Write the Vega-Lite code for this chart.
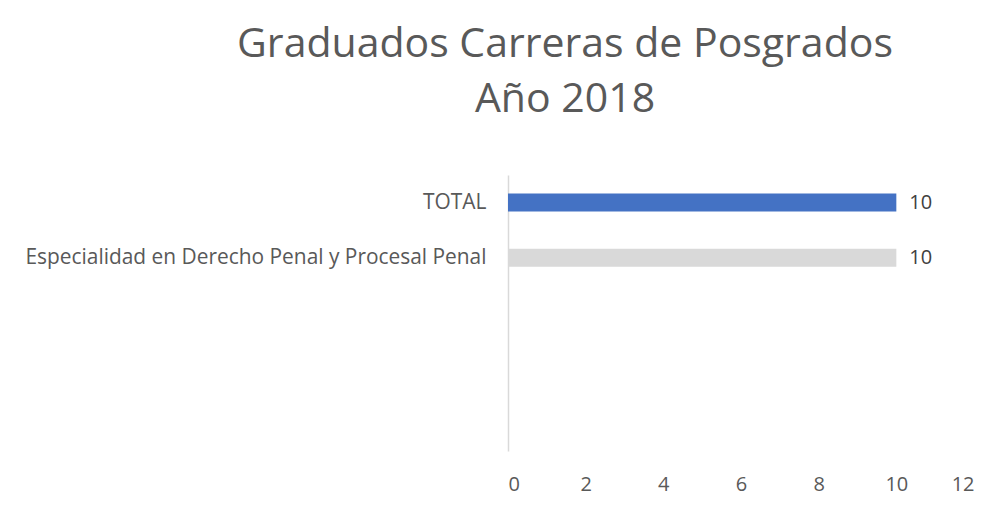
{
  "$schema": "https://vega.github.io/schema/vega-lite/v6.json",
  "width": 466,
  "height": 276,
  "autosize": {"type": "none"},
  "padding": {"left": 508, "top": 175, "right": 32, "bottom": 59},
  "background": "white",
  "title": {
    "text": ["Graduados Carreras de Posgrados", "Año 2018"],
    "fontSize": 41,
    "lineHeight": 55,
    "font": "Open Sans",
    "fontWeight": "normal",
    "color": "#595959",
    "anchor": "middle",
    "frame": "group",
    "dx": -176,
    "offset": 54
  },
  "data": {
    "values": [
      {"carrera": "TOTAL", "graduados": 10, "tipo": "total"},
      {"carrera": "Especialidad en Derecho Penal y Procesal Penal", "graduados": 10, "tipo": "carrera"}
    ]
  },
  "encoding": {
    "y": {
      "field": "carrera",
      "type": "nominal",
      "sort": null,
      "scale": {
        "domain": ["TOTAL", "Especialidad en Derecho Penal y Procesal Penal", "_e1", "_e2", "_e3"],
        "paddingInner": 0,
        "paddingOuter": 0
      },
      "axis": {
        "title": null,
        "values": ["TOTAL", "Especialidad en Derecho Penal y Procesal Penal"],
        "ticks": false,
        "domain": true,
        "domainColor": "#D9D9D9",
        "domainWidth": 1.5,
        "labelFont": "Open Sans",
        "labelFontSize": 20.9,
        "labelColor": "#595959",
        "labelPadding": 22,
        "labelLimit": 600,
        "grid": false
      }
    },
    "x": {
      "field": "graduados",
      "type": "quantitative",
      "scale": {"domain": [0, 12], "nice": false},
      "axis": {
        "title": null,
        "values": [0, 2, 4, 6, 8, 10, 12],
        "ticks": false,
        "domain": false,
        "grid": false,
        "labelFont": "Open Sans",
        "labelFontSize": 20,
        "labelColor": "#595959",
        "labelPadding": 23
      }
    }
  },
  "layer": [
    {
      "mark": {"type": "bar", "size": 18},
      "encoding": {
        "color": {
          "field": "tipo",
          "type": "nominal",
          "scale": {"domain": ["total", "carrera"], "range": ["#4472C4", "#D9D9D9"]},
          "legend": null
        }
      }
    },
    {
      "mark": {
        "type": "text",
        "align": "left",
        "baseline": "middle",
        "dx": 13,
        "font": "Open Sans",
        "fontSize": 20,
        "color": "#404040"
      },
      "encoding": {
        "text": {"field": "graduados", "type": "quantitative"}
      }
    }
  ],
  "config": {"view": {"stroke": null}}
}
